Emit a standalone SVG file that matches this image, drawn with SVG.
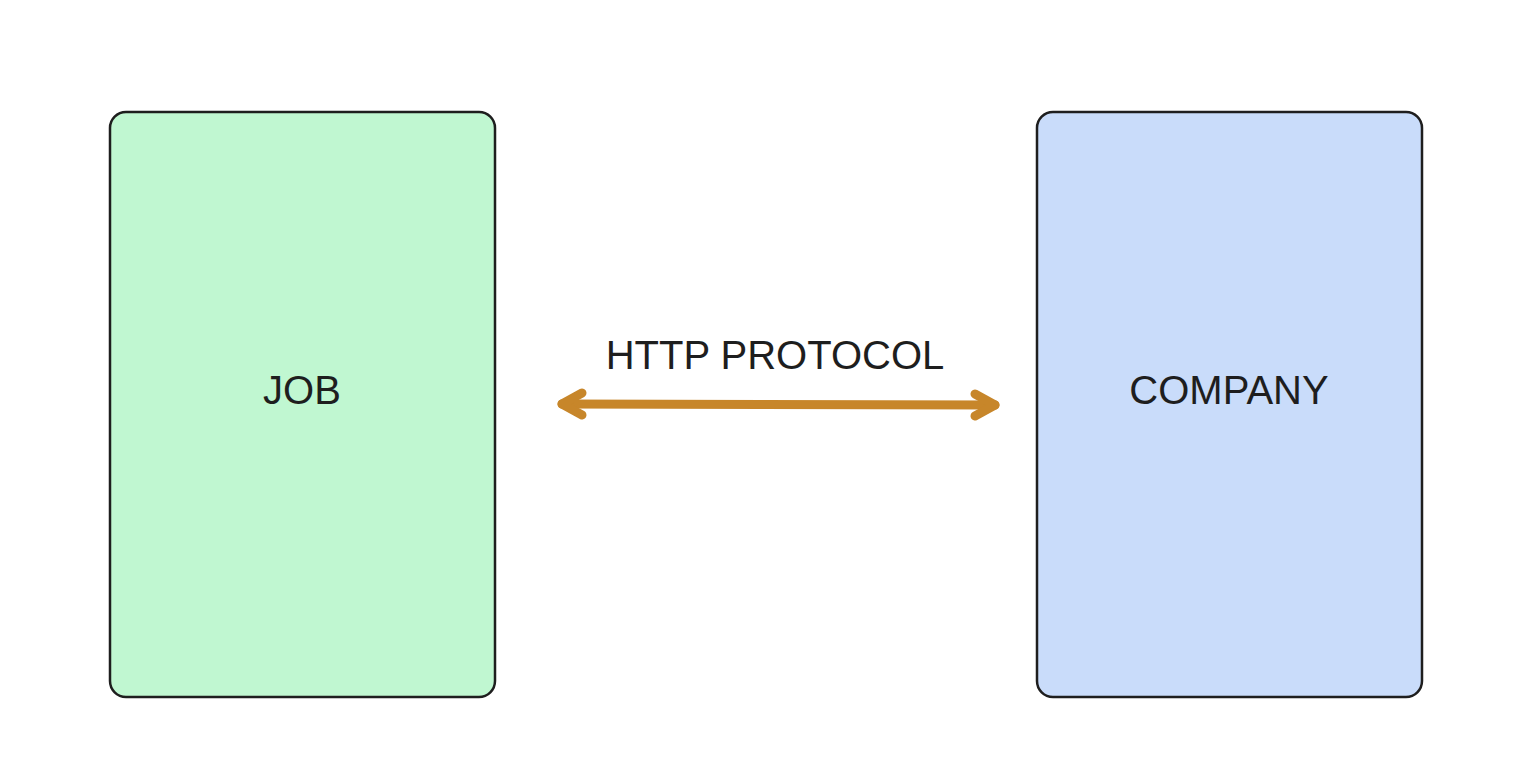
<svg xmlns="http://www.w3.org/2000/svg" width="1514" height="783" viewBox="0 0 1514 783">
<style>
.box{stroke:#1e1e1e;stroke-width:2.5}
.lbl{font-family:"Liberation Sans",Arial,sans-serif;font-size:40px;fill:#1e1e1e;text-anchor:middle;dominant-baseline:central}
.conn{stroke:#c7862a;stroke-width:9;stroke-linecap:round;stroke-linejoin:round;fill:none}
</style>
<rect width="1514" height="783" fill="#ffffff"/>
<g id="job">
<rect class="box" x="110" y="112" width="385" height="585" rx="16" fill="#c0f7d1"/>
<text class="lbl" x="302" y="390">JOB</text>
</g>
<g id="company">
<rect class="box" x="1037" y="112" width="385" height="585" rx="16" fill="#c9dcfa"/>
<text class="lbl" x="1229" y="390">COMPANY</text>
</g>
<g id="connectors">
<path class="conn" d="M562 404 L995 405"/>
<path class="conn" d="M582 393 L562 404 L582 415"/>
<path class="conn" d="M975 394 L995 405 L975 416"/>
<text class="lbl" x="775" y="355">HTTP PROTOCOL</text>
</g>
</svg>
